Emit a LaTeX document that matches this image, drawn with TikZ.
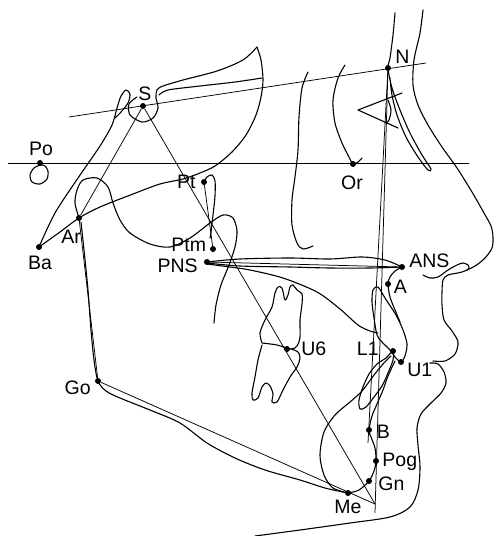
\documentclass[tikz,border=0pt]{standalone}
\usepackage{fontspec}
\setmainfont{Liberation Sans}
\usetikzlibrary{positioning}

\tikzset{
  landmark/.style={circle, fill, inner sep=0pt, minimum size=6pt},
  lbl/.style={inner sep=0pt, font=\fontsize{19.5}{20}\selectfont},
  refline/.style={line width=0.75pt},
  tracing/.style={line width=1.1pt, line cap=round, line join=round},
}

\begin{document}
\begin{tikzpicture}[x=1pt, y=-1pt]
\useasboundingbox (0,0) rectangle (495,536);

% landmarks
\node[landmark] (S) at (143,106) {};
\node[landmark] (N) at (388,68) {};
\node[landmark] (Po) at (40,163) {};
\node[landmark] (Or) at (353,164) {};
\node[landmark] (Ba) at (39,247) {};
\node[landmark] (Ar) at (79,218) {};
\node[landmark] (Pt) at (204,182) {};
\node[landmark] (Ptm) at (213,249) {};
\node[landmark] (PNS) at (207,262) {};
\node[landmark] (ANS) at (402,267) {};
\node[landmark] (A) at (388,284) {};
\node[landmark] (L1) at (393,351) {};
\node[landmark] (U1) at (401,362) {};
\node[landmark] (U6) at (287,349) {};
\node[landmark] (B) at (369,430) {};
\node[landmark] (Pog) at (376,461) {};
\node[landmark] (Gn) at (369,481) {};
\node[landmark] (Me) at (348,493) {};
\node[landmark] (Go) at (98,381) {};

\coordinate (snL) at (69,117);
\coordinate (snR) at (426,63);
\coordinate (fhL) at (8,163);
\coordinate (fhR) at (469,163);
\coordinate (yEnd) at (375,504);
\coordinate (nPogEnd) at (375,513);
\coordinate (nbEnd) at (368,443);

% labels
\node[lbl, above=2pt of S, xshift=2pt] (lS) {S};
\node[lbl, above right=2pt and 5pt of N] (lN) {N};
\node[lbl, above=4pt of Po, xshift=1pt] (lPo) {Po};
\node[lbl, below=8pt of Or, xshift=-1pt] (lOr) {Or};
\node[lbl, below=6pt of Ba, xshift=1pt] (lBa) {Ba};
\node[lbl, below=9pt of Ar, xshift=-8pt] (lAr) {Ar};
\node[lbl, left=5pt of Pt] (lPt) {Pt};
\node[lbl, left=3.5pt of Ptm, yshift=4pt] (lPtm) {Ptm};
\node[lbl, left=6pt of PNS, yshift=-4pt] (lPNS) {PNS};
\node[lbl, right=4pt of ANS, yshift=6pt] (lANS) {ANS};
\node[lbl, right=2.5pt of A, yshift=-3pt] (lA) {A};
\node[lbl, left=11pt of L1, yshift=2pt] (lL1) {L1};
\node[lbl, right=3pt of U1, yshift=-8pt] (lU1) {U1};
\node[lbl, right=11pt of U6] (lU6) {U6};
\node[lbl, right=4.5pt of B, yshift=-2pt] (lB) {B};
\node[lbl, right=3pt of Pog, yshift=-1pt] (lPog) {Pog};
\node[lbl, right=6pt of Gn, yshift=-3pt] (lGn) {Gn};
\node[lbl, below=4pt of Me] (lMe) {Me};
\node[lbl, left=4pt of Go, yshift=-7pt] (lGo) {Go};

% reference lines
\draw[refline] (snL) -- (snR);
\draw[refline] (fhL) -- (fhR);
\draw[refline]
(S) edge (Ar)
    edge (yEnd)
(Ar) edge (Go)
(Go) edge (yEnd)
(Pt) edge (Ptm)
(PNS) edge (ANS)
(N) edge (nPogEnd)
    edge (nbEnd);

% cranial base
\draw[tracing] plot[smooth] coordinates {(39,247) (55,213) (78,178) (100,146) (112,125) (117,108) (121,96) (126,90) (130,94) (128,103) (121,112) (115,118)};
\draw[tracing] plot[smooth] coordinates {(137,97) (129,104) (130,115) (142,122) (153,118) (158,108) (156,98) (157,90) (163,86) (183,80) (217,71) (243,60) (257,47)};
\draw[tracing] plot[smooth] coordinates {(159,95) (168,90) (200,86) (235,82) (262,78)};
\draw[tracing] plot[smooth] coordinates {(257,47) (261,60) (263,80) (261,97) (256,115) (246,135) (232,152) (215,166) (200,173) (183,179) (160,184) (133,194) (100,207) (79,218) (60,232) (39,247)};
\draw[tracing] plot[smooth cycle] coordinates {(41,165) (34,168) (30,175) (32,182) (40,184) (47,179) (48,171) (45,166)};

% pterygomaxillary fissure
\draw[tracing] plot[smooth] coordinates {(204,182) (207,177) (212,175) (215,181) (215,196) (213,215) (211,232) (210,238)};

% mandible
\draw[tracing] plot[smooth] coordinates {(79,218) (75,203) (77,190) (83,180) (97,178) (108,187) (113,203) (120,220) (130,233) (150,244) (170,247) (190,238) (210,223) (223,215) (233,218) (237,231) (235,247) (229,265) (221,285) (216,305) (214,323)};
\draw[tracing] plot[smooth] coordinates {(81,222) (84,250) (88,290) (91,330) (94,360) (98,381) (106,391) (120,398) (150,410) (180,423) (207,443) (235,458) (265,470) (300,480) (325,488) (348,493)};
\draw[tracing] plot[smooth] coordinates {(348,493) (359,490) (369,481) (374,471) (376,461) (375,448) (371,437) (369,430) (372,416) (377,404) (383,390) (388,376) (395,361)};
\draw[tracing] plot[smooth] coordinates {(348,493) (333,488) (324,475) (320,455) (324,432) (335,415) (350,402) (362,391) (374,375) (383,364) (391,356)};

% maxilla and palate
\draw[tracing] plot[smooth] coordinates {(207,262) (240,259) (290,258) (330,259) (362,257) (385,260) (402,267)};
\draw[tracing] plot[smooth] coordinates {(207,263) (240,266) (290,267) (330,268) (370,268) (402,267)};
\draw[tracing] plot[smooth] coordinates {(207,264) (230,267) (250,270) (283,278) (317,292) (340,309) (358,325) (370,331) (378,333)};
\draw[tracing] plot[smooth] coordinates {(402,267) (395,271) (390,277) (388,284) (390,297) (395,310) (400,322)};

% incisors
\draw[tracing] plot[smooth cycle] coordinates {(373,290) (378,287) (385,298) (396,315) (403,330) (407,344) (405,356) (401,362) (395,357) (390,350) (382,342) (377,335) (374,318) (372,302)};
\draw[tracing] plot[smooth cycle] coordinates {(393,351) (386,358) (377,364) (369,374) (363,387) (359,400) (360,409) (366,407) (374,397) (382,386) (388,373) (393,360)};

% molars
\draw[tracing] plot[smooth] coordinates {(262,343) (260,333) (265,320) (272,307) (275,293) (278,287) (282,288) (285,300) (288,295) (290,287) (293,285) (297,290) (302,294) (302,304) (300,320) (300,337) (297,346) (291,349) (277,345) (262,343)};
\draw[tracing] plot[smooth] coordinates {(262,345) (258,360) (255,377) (252,393) (253,400) (258,398) (262,387) (266,383) (270,386) (273,394) (272,402) (277,402) (283,390) (290,377) (297,367) (300,358) (298,352) (291,349)};

% orbit and nose
\draw[tracing] plot[smooth] coordinates {(345,65) (338,78) (333,100) (335,123) (342,143) (349,157) (353,164) (358,162) (362,158)};
\draw[tracing] plot[smooth] coordinates {(308,72) (302,88) (299,117) (298,150) (295,177) (292,200) (292,225) (297,243) (303,249) (313,246)};
\draw[tracing] plot[smooth] coordinates {(395,13) (393,35) (390,58) (388,68) (392,88) (400,110) (410,133) (422,155) (431,169) (428,170) (418,157) (406,137) (397,115) (392,95) (390,78)};
\draw[tracing] (402,93) -- (358,110) -- (398,128);
\draw[tracing] plot[smooth] coordinates {(388,100) (391,110) (389,120) (386,124)};

% soft tissue
\draw[tracing] plot[smooth] coordinates {(423,10) (420,33) (414,60) (413,85) (418,105) (428,125) (442,147) (457,168) (472,192) (484,213) (491,226) (493,237) (492,248) (485,258) (475,266) (462,272) (448,275) (443,280) (442,292) (442,305) (444,320) (452,331) (458,342) (455,354) (445,361) (433,361)};
\draw[tracing] plot[smooth] coordinates {(423,275) (430,278) (438,277) (448,270) (457,265) (463,263) (468,265) (469,268) (467,270)};
\draw[tracing] plot[smooth] coordinates {(430,363) (438,364) (444,372) (446,383) (441,393) (431,403) (421,414) (417,428) (418,445) (420,467) (418,490) (410,507) (390,517) (350,523) (300,530) (255,536)};
\end{tikzpicture}
\end{document}
